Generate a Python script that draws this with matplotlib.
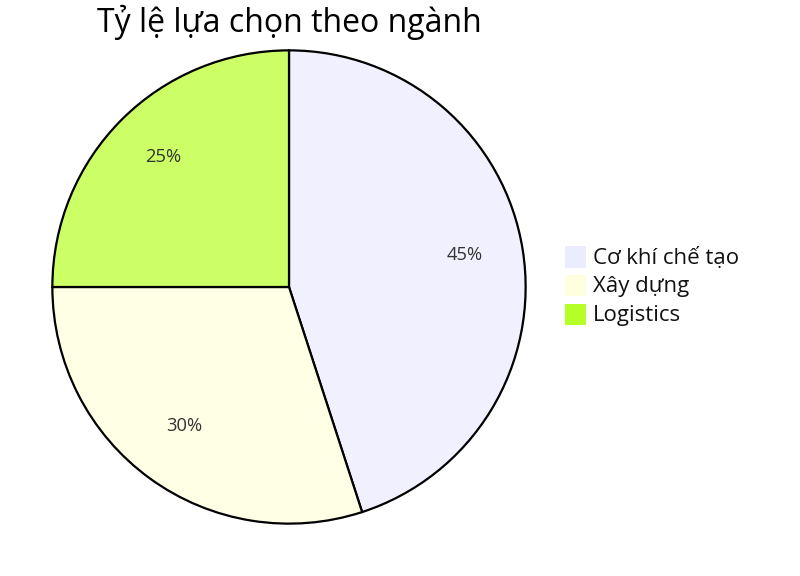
import matplotlib
matplotlib.use("Agg")
import matplotlib.pyplot as plt
from matplotlib.patches import Rectangle

title = "Tỷ lệ lựa chọn theo ngành"
labels = ["Cơ khí chế tạo", "Xây dựng", "Logistics"]
values = [45, 30, 25]
slice_colors = ["#F0F0FE", "#FFFFE6", "#CCFF66"]
legend_colors = ["#ECECFF", "#FFFFDE", "#B3FF26"]

plt.rcParams["font.family"] = ["Open Sans", "DejaVu Sans"]

W, H = 800, 576
fig = plt.figure(figsize=(W / 100, H / 100), dpi=100)

cx, cy, r = 289, 287, 239
ax = fig.add_axes([(cx - r) / W, (H - cy - r) / H, 2 * r / W, 2 * r / H])
wedges, texts, pcts = ax.pie(
    values,
    colors=slice_colors,
    startangle=90,
    counterclock=False,
    radius=1,
    autopct="%d%%",
    pctdistance=0.75,
    wedgeprops=dict(edgecolor="black", linewidth=1.6),
    textprops=dict(fontsize=13.2, color="#333333"),
)
for t in pcts:
    x, y = t.get_position()
    t.set_position((x, y + 0.018))
ax.set_xlim(-1.01, 1.01)
ax.set_ylim(-1.01, 1.01)
ax.set_aspect("equal")
ax.axis("off")

fig.text(cx / W, 1 - 22 / H, title, ha="center", va="center", fontsize=23, color="black")

# legend
for i, (lab, col) in enumerate(zip(labels, legend_colors)):
    y = 257 + i * 28.5
    fig.patches.append(Rectangle((565 / W, 1 - (y + 10.5) / H), 21 / W, 21 / H,
                                 transform=fig.transFigure, facecolor=col, edgecolor="none"))
    fig.text(593 / W, 1 - (y + 1) / H, lab, ha="left", va="center", fontsize=16, color="#111111")

fig.savefig("out.png", dpi=100)
